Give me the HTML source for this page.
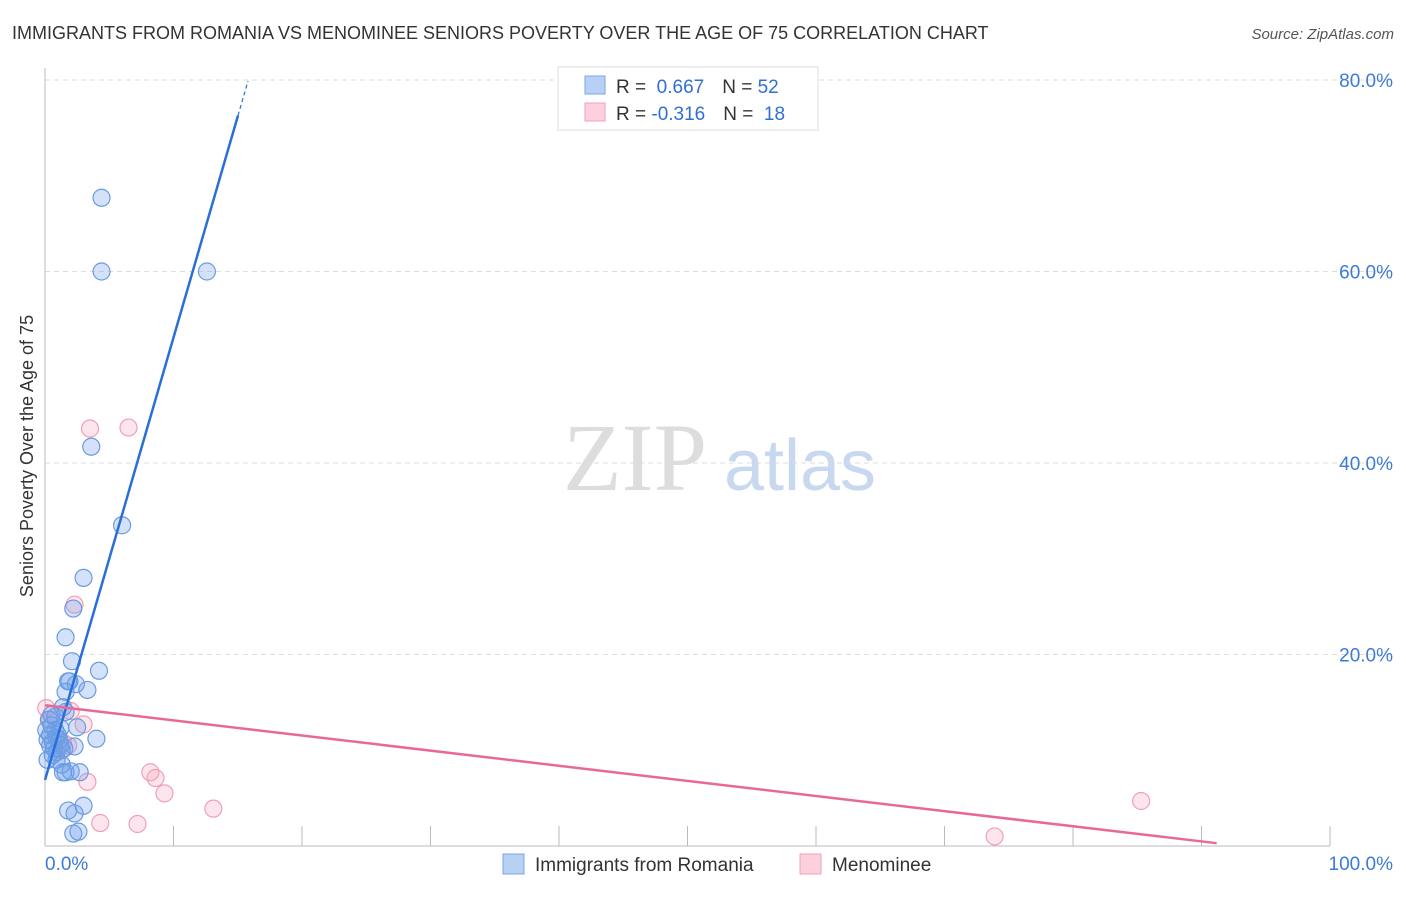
<!DOCTYPE html>
<html><head><meta charset="utf-8"><style>
body{margin:0;background:#fff;font-family:"Liberation Sans",sans-serif}
</style></head><body>
<svg id="chart" width="1406" height="892" xmlns="http://www.w3.org/2000/svg" font-family="Liberation Sans, sans-serif">
<text x="12" y="39" font-size="18" fill="#333">IMMIGRANTS FROM ROMANIA VS MENOMINEE SENIORS POVERTY OVER THE AGE OF 75 CORRELATION CHART</text>
<text x="1394" y="39" font-size="15" fill="#555" text-anchor="end" font-style="italic">Source: ZipAtlas.com</text>
<text transform="translate(33,456) rotate(-90)" font-size="18" fill="#333" text-anchor="middle">Seniors Poverty Over the Age of 75</text>
<g>
<text x="635" y="490" font-size="96" fill="#ddd" font-family="Liberation Serif, serif" text-anchor="middle">ZIP</text>
<text x="800" y="490" font-size="72" fill="#c8d8f0" text-anchor="middle">atlas</text>
</g>
<g id="grid"></g><g id="axes"></g><g id="pts"></g><g id="lines"></g>
<g>
<rect x="558" y="67" width="260" height="63" fill="#fff" stroke="#ddd"/>
<rect x="585" y="76" width="20" height="18" fill="#b8d0f4" stroke="#7aa6e6"/>
<text x="616" y="93" font-size="19" fill="#333">R = <tspan fill="#2f6fd6">&#160;0.667</tspan><tspan dx="18">N = </tspan><tspan fill="#2f6fd6">52</tspan></text>
<rect x="585" y="103" width="20" height="18" fill="#fbd0dc" stroke="#f0a0b8"/>
<text x="616" y="120" font-size="19" fill="#333">R = <tspan fill="#2f6fd6">-0.316</tspan><tspan dx="18">N = </tspan><tspan fill="#2f6fd6">&#160;18</tspan></text>
</g>
<g>
<rect x="503" y="854" width="21" height="20" fill="#b8d0f4" stroke="#7aa6e6"/>
<text x="535" y="871" font-size="19" fill="#333">Immigrants from Romania</text>
<rect x="800" y="854" width="21" height="20" fill="#fbd0dc" stroke="#f0a0b8"/>
<text x="832" y="871" font-size="19" fill="#333">Menominee</text>
</g>
</svg>
<script>
const yTicks=[20,40,60,80];
const yTickLabels=["20.0%","40.0%","60.0%","80.0%"];
const xTicks=[0,10,20,30,40,50,60,70,80,90,100];
const xEndLabels=["0.0%","100.0%"];
const blueX=[4.4,4.4,12.6,3.6,6.0,3.0,2.2,1.6,2.1,4.2,1.8,1.9,2.4,3.3,1.6,1.4,1.6,2.5,0.3,0.5,0.8,1.0,0.2,0.6,1.2,1.5,2.3,4.0,0.9,1.3,0.4,0.9,1.2,0.8,1.4,1.6,2.0,2.7,3.0,1.8,2.3,2.2,2.6,0.4,0.7,1.1,0.1,0.5,0.2,0.9,1.3,0.6];
const blueY=[67.7,60.0,60.0,41.7,33.5,28.0,24.8,21.8,19.3,18.3,17.2,17.2,16.9,16.3,16.1,14.5,14.0,12.4,13.2,12.6,12.1,11.6,11.1,10.9,10.5,10.2,10.4,11.2,9.8,10.0,10.5,11.3,12.3,13.5,7.7,7.7,7.8,7.7,4.2,3.7,3.4,1.3,1.5,11.6,10.2,11.1,12.1,13.7,9.0,9.0,8.5,9.5];
const pinkX=[3.5,6.5,2.3,0.1,2.0,3.0,1.4,1.8,3.3,8.2,8.6,9.3,4.3,7.2,13.1,85.3,73.9,0.4];
const pinkY=[43.6,43.7,25.2,14.4,14.1,12.7,10.8,10.5,6.7,7.7,7.1,5.5,2.4,2.3,3.9,4.7,1.0,13.2];
const blueFit=[6.9,4.62]; // intercept, slope
const pinkFit=[14.7,-0.158];
const NS="http://www.w3.org/2000/svg";
const X=v=>45+v*12.85, Y=v=>846-v*9.575;
function mk(p,t,a){const e=document.createElementNS(NS,t);for(const k in a)e.setAttribute(k,a[k]);document.getElementById(p).appendChild(e);return e;}
yTicks.forEach((t,i)=>{
 const g=mk('grid','line',{x1:45,x2:1395,y1:Y(t),y2:Y(t),stroke:'#ddd','stroke-dasharray':'5,4'});
 
 
 const l=mk('axes','text',{x:1393,y:Y(t)+7,'font-size':19,fill:'#3d7ad8','text-anchor':'end'});
 l.textContent=yTickLabels[i];
 
 
});
const ya=mk('axes','line',{x1:45,x2:45,y1:68,y2:846,stroke:'#bbb'});


const xa=mk('axes','line',{x1:45,x2:1330,y1:846,y2:846,stroke:'#bbb'});


xTicks.forEach(t=>{const k=mk('axes','line',{x1:X(t),x2:X(t),y1:826,y2:846,stroke:'#bbb'});
 
 });
[[0,'start',45],[100,'end',1393]].forEach((d,i)=>{const l=mk('axes','text',{x:d[2],y:870,'font-size':19,fill:'#3d7ad8','text-anchor':d[1]});l.textContent=xEndLabels[i];
 
 });
pinkX.forEach((v,i)=>{const c=mk('pts','circle',{cx:X(v),cy:Y(pinkY[i]),r:8.5,fill:'rgba(244,160,188,0.28)',stroke:'#f0a0b8','stroke-width':1.2});
 
 });
blueX.forEach((v,i)=>{const c=mk('pts','circle',{cx:X(v),cy:Y(blueY[i]),r:8.5,fill:'rgba(110,160,235,0.3)',stroke:'#6a9be0','stroke-width':1.2});
 
 });
const bl=mk('lines','line',{x1:X(0),y1:Y(blueFit[0]),x2:X(15.02),y2:Y(blueFit[0]+blueFit[1]*15.02),stroke:'#2a6fd8','stroke-width':2.5});


const bd=mk('lines','line',{x1:X(15.02),y1:Y(blueFit[0]+blueFit[1]*15.02),x2:X(15.8),y2:Y(blueFit[0]+blueFit[1]*15.8),stroke:'#2a6fd8','stroke-width':1.2,'stroke-dasharray':'4,3'});


const xe=-pinkFit[0]/pinkFit[1]*0.98;
const pl=mk('lines','line',{x1:X(0),y1:Y(pinkFit[0]),x2:X(xe),y2:Y(pinkFit[0]+pinkFit[1]*xe),stroke:'#e8689a','stroke-width':2.5});


</script>
</body></html>
